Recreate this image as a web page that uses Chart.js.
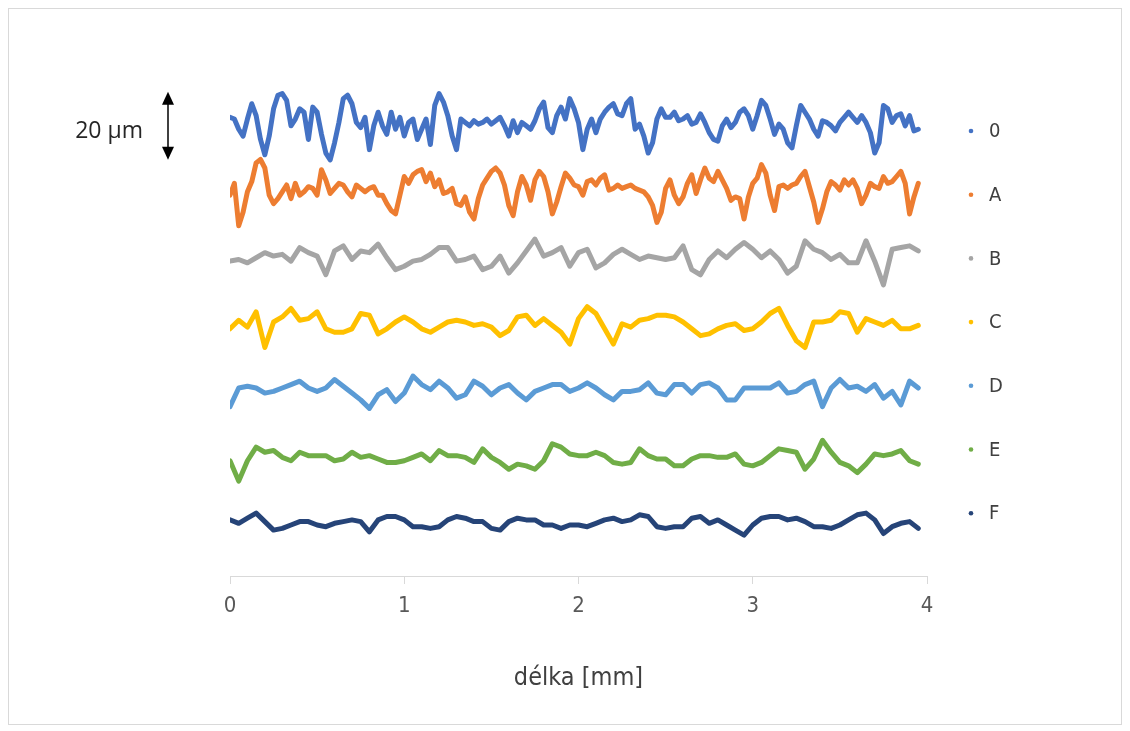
<!DOCTYPE html>
<html>
<head>
<meta charset="utf-8">
<script src="https://cdn.jsdelivr.net/npm/chart.js@4.4.1/dist/chart.umd.min.js"></script>
<style>
  html, body { margin: 0; padding: 0; background: #fff; }
  #frame { position: absolute; left: 8px; top: 8px; width: 1114px; height: 717px; border: 1px solid #d9d9d9; box-sizing: border-box; pointer-events: none; }
  canvas { position: absolute; left: 0; top: 0; }
</style>
</head>
<body>
<canvas id="chart" width="1130" height="731"></canvas>
<div id="frame"></div>
<script>
// Profile names and colours (Excel palette)
const seriesNames = ['0', 'A', 'B', 'C', 'D', 'E', 'F'];
const seriesColors = ['#4472C4', '#ED7D31', '#A5A5A5', '#FFC000', '#5B9BD5', '#70AD47', '#264478'];

// vertical offset of each profile on the plot [µm]
const seriesOffsets = [132.4, 113, 93.6, 74.2, 54.8, 35.4, 16];

// sampling step along the length [mm]
const stepFine = 0.025;   // profiles 0 and A
const stepCoarse = 0.05;  // profiles B..F

// roughness profiles, deviation from mean line [µm]
const profile0 = [
  2.5, 2, -1, -3, 2, 6.5, 3, -4, -8.5, -3,
  5, 9, 9.5, 7.5, 0, 2, 5, 4, -4, 5.5,
  4, -2.5, -8, -10, -5, 1, 8, 9, 6.5, 1,
  -0.5, 2.5, -7, 0, 4, 0, -2.5, 4, -1, 2.5,
  -3, 1, 2, -4, -1, 2, -5.5, 6, 9.5, 7,
  3, -3, -7, 2, 1, 0, 1.5, 0.5, 1, 2,
  0.5, 1.5, 2.5, 0, -3, 1.5, -2, 1, 0, -1,
  1.5, 5, 7, -0.5, -2, 3, 5.5, 2, 8, 5,
  1, -7, -1, 2, -2, 2, 4, 5.5, 6.5, 3.5,
  3, 6.5, 8, -1, 0.5, -3, -8, -5, 2, 5,
  2.5, 2.5, 4, 1.5, 2, 3, 0.5, 1, 3.5, 1,
  -2, -4, -4.5, 0, 2, -0.5, 1, 4, 5, 3,
  -1, 3, 7.5, 6, 2, -2.5, 0.5, -1, -5, -6.5,
  0, 6, 4, 2, -1, -3, 1.5, 1, 0, -1.5,
  1, 2.5, 4, 2.5, 1, 3, 1, -2, -8, -5,
  6, 5, 1, 3, 3.5, 0, 3, -1.5, -1
];
const profileA = [
  -1, 2.5, -10, -6, 0, 3, 8.5, 9.5, 7, -1,
  -3.5, -2, 0, 2, -2, 2.5, -1, 0, 1.5, 1,
  -1, 6.5, 3.5, -0.5, 1, 2.5, 2, 0, -1.5, 2,
  1, 0, 1, 1.5, -1, -1, -3.5, -5.5, -6.5, -1,
  4.5, 2.5, 5, 6, 6.5, 3, 5.5, 1.5, 3.5, -0.5,
  0, 1, -3.5, -4, -1.5, -6, -8, -2, 2, 4,
  6, 7, 5.5, 2, -4, -7, 0, 4.5, 2, -2.5,
  3.5, 6, 4.5, 0, -6.5, -3, 1.5, 5.5, 4, 2,
  1.5, -1, 3, 3.5, 2, 4, 5, 0.5, 1, 2,
  1, 1.5, 2, 1, 0.5, 0, -1.5, -4, -9, -6,
  1, 3.5, -1, -3.5, -1.5, 2.5, 5, -0.5, 3.5, 7,
  4, 3, 6, 3.5, 1, -2.5, -1.5, -2, -8, -1.5,
  2.5, 4, 8, 5.5, -1, -5.5, 1.5, 2, 1, 2,
  2.5, 4.5, 6, 1.5, -3, -9, -5, 0, 3, 2,
  0.5, 3.5, 2, 3.5, 1, -3.5, -1, 2.5, 1.5, 1,
  4.5, 2.5, 3, 4.5, 6, 2.5, -6.5, -1.5, 2.5
];
const profileB = [
  -1, -0.5, -1.5, 0, 1.5, 0.5, 1, -1, 3, 1.5,
  0.5, -5, 2, 3.5, -0.5, 2, 1.5, 4, 0, -3.5,
  -2.5, -1, -0.5, 1, 3, 3, -1, -0.5, 0.5, -3.5,
  -2.5, 0.5, -4.5, -1.5, 2, 5.5, 0.5, 1.5, 3, -2.5,
  1.5, 2.5, -3, -1.5, 1, 2.5, 1, -0.5, 0.5, 0,
  -0.5, 0, 3.5, -3.5, -5, -0.5, 2, 0, 2.5, 4.5,
  2.5, 0, 2, -0.5, -4.5, -2.5, 5, 2.5, 1.5, -0.5,
  1, -1.5, -1.5, 5, -1, -8, 2.5, 3, 3.5, 2
];
const profileC = [
  -1.5, 1, -1, 3.5, -7, 0.5, 2, 4.5, 1, 1.5,
  3.5, -1.5, -2.5, -2.5, -1.5, 3, 2.5, -3, -1.5, 0.5,
  2, 0.5, -1.5, -2.5, -1, 0.5, 1, 0.5, -0.5, 0,
  -1, -3.5, -2, 2, 2.5, -0.5, 1.5, -0.5, -2.5, -6,
  1.5, 5, 3, -1.5, -6, 0, -1, 1, 1.5, 2.5,
  2.5, 2, 0.5, -1.5, -3.5, -3, -1.5, -0.5, 0, -2,
  -1.5, 0.5, 3, 4.5, -0.5, -5, -7, 0.5, 0.5, 1,
  3.5, 3, -2.5, 1.5, 0.5, -0.5, 1, -1.5, -1.5, -0.5
];
const profileD = [
  -5, 0.5, 1, 0.5, -1, -0.5, 0.5, 1.5, 2.5, 0.5,
  -0.5, 0.5, 3, 1, -1, -3, -5.5, -1.5, 0, -3.5,
  -1, 4, 1.5, 0, 2.5, 0.5, -2.5, -1.5, 2.5, 1,
  -1.5, 0.5, 1.5, -1, -3, -0.5, 0.5, 1.5, 1.5, -0.5,
  0.5, 2, 0.5, -1.5, -3, -0.5, -0.5, 0, 2, -1,
  -1.5, 1.5, 1.5, -1, 1.5, 2, 0.5, -3, -3, 0.5,
  0.5, 0.5, 0.5, 2, -1, -0.5, 1.5, 2.5, -5, 0.5,
  3, 0.5, 1, -0.5, 1.5, -2.5, -0.5, -4.5, 2.5, 0.5
];
const profileE = [
  -1.5, -7.5, -1.5, 2.5, 1, 1.5, -0.5, -1.5, 1, 0,
  0, 0, -1.5, -1, 1, -0.5, 0, -1, -2, -2,
  -1.5, -0.5, 0.5, -1.5, 1.5, 0, 0, -0.5, -2, 2,
  -0.5, -2, -4, -2.5, -3, -4, -1.5, 3.5, 2.5, 0.5,
  0, 0, 1, 0, -2, -2.5, -2, 2, 0, -1,
  -1, -3, -3, -1, 0, 0, -0.5, -0.5, 0.5, -2.5,
  -3, -2, 0, 2, 1.5, 1, -4, -1, 4.5, 1,
  -2, -3, -5, -2.5, 0.5, 0, 0.5, 1.5, -1.5, -2.5
];
const profileF = [
  0.5, -0.5, 1, 2.5, 0, -2.5, -2, -1, 0, 0,
  -1, -1.5, -0.5, 0, 0.5, 0, -3, 0.5, 1.5, 1.5,
  0.5, -1.5, -1.5, -2, -1.5, 0.5, 1.5, 1, 0, 0,
  -2, -2.5, 0, 1, 0.5, 0.5, -1, -1, -2, -1,
  -1, -1.5, -0.5, 0.5, 1, 0, 0.5, 2, 1.5, -1.5,
  -2, -1.5, -1.5, 1, 1.5, -0.5, 0.5, -1, -2.5, -4,
  -1, 1, 1.5, 1.5, 0.5, 1, 0, -1.5, -1.5, -2,
  -1, 0.5, 2, 2.5, 0.5, -3.5, -1.5, -0.5, 0, -2
];

const profiles = [profile0, profileA, profileB, profileC, profileD, profileE, profileF];
const steps = [stepFine, stepFine, stepCoarse, stepCoarse, stepCoarse, stepCoarse, stepCoarse];

// x axis ticks [mm]
const xTicks = [0, 1, 2, 3, 4];
const xTitle = 'délka [mm]';

// scale bar
const scaleBarLength = 20; // µm
const scaleBarLabel = '20 µm';

const textFont = '"Liberation Sans Narrow", "DejaVu Sans Condensed", sans-serif';

// turn a profile into {x, y} points, shifted to its level on the plot
function toPoints(values, step, offset) {
  return values.map((v, i) => ({ x: Math.round(i * step * 1000) / 1000, y: offset + v }));
}

const datasets = profiles.map((values, i) => ({
  label: seriesNames[i],
  data: toPoints(values, steps[i], seriesOffsets[i]),
  borderColor: seriesColors[i],
  backgroundColor: seriesColors[i],
  borderWidth: 5,
  borderJoinStyle: 'round',
  borderCapStyle: 'round',
  pointRadius: 0,
  tension: 0,
  fill: false
}));

// scale bar on the left and legend on the right
const overlayPlugin = {
  id: 'overlay',
  afterDraw(chart) {
    const { ctx, scales: { y } } = chart;
    ctx.save();

    // arrow showing 20 µm
    const ax = 168;
    const yTop = y.getPixelForValue(seriesOffsets[0] + scaleBarLength / 2);
    const yBot = y.getPixelForValue(seriesOffsets[0] - scaleBarLength / 2);
    ctx.strokeStyle = '#000';
    ctx.fillStyle = '#000';
    ctx.lineWidth = 1.5;
    ctx.beginPath();
    ctx.moveTo(ax, yTop + 10);
    ctx.lineTo(ax, yBot - 10);
    ctx.stroke();
    ctx.beginPath();
    ctx.moveTo(ax, yTop);
    ctx.lineTo(ax - 6, yTop + 13);
    ctx.lineTo(ax + 6, yTop + 13);
    ctx.closePath();
    ctx.fill();
    ctx.beginPath();
    ctx.moveTo(ax, yBot);
    ctx.lineTo(ax - 6, yBot - 13);
    ctx.lineTo(ax + 6, yBot - 13);
    ctx.closePath();
    ctx.fill();

    ctx.fillStyle = '#262626';
    ctx.font = '23px "Open Sans", sans-serif';
    ctx.textAlign = 'right';
    ctx.textBaseline = 'middle';
    ctx.fillText(scaleBarLabel, 143, (yTop + yBot) / 2 + 6);

    // legend
    ctx.font = '20px ' + textFont;
    ctx.textAlign = 'left';
    chart.data.datasets.forEach((ds, i) => {
      const ly = 131 + i * 63.7;
      ctx.fillStyle = ds.borderColor;
      ctx.beginPath();
      ctx.arc(971, ly, 2.3, 0, Math.PI * 2);
      ctx.fill();
      ctx.fillStyle = '#404040';
      ctx.fillText(ds.label, 989, ly + 1);
    });
    ctx.restore();
  }
};

new Chart(document.getElementById('chart'), {
  type: 'line',
  data: { datasets },
  plugins: [overlayPlugin],
  options: {
    responsive: false,
    animation: false,
    devicePixelRatio: 1,
    layout: { padding: { left: 230, right: 203, top: 66, bottom: 38 } },
    plugins: {
      legend: { display: false },
      tooltip: { enabled: false }
    },
    scales: {
      x: {
        type: 'linear',
        min: 0,
        max: 4,
        afterBuildTicks: (scale) => { scale.ticks = xTicks.map(v => ({ value: v })); },
        afterFit: (scale) => { scale.height = 117; },
        ticks: {
          color: '#595959',
          font: { family: textFont, size: 22 },
          padding: 9
        },
        grid: {
          drawOnChartArea: false,
          drawTicks: true,
          tickLength: 8,
          color: '#d9d9d9'
        },
        border: { display: true, color: '#d9d9d9', width: 1 },
        title: {
          display: true,
          text: xTitle,
          color: '#404040',
          font: { family: textFont, size: 25 },
          padding: { top: 0, bottom: 0 }
        }
      },
      y: {
        type: 'linear',
        min: 0,
        max: 150,
        display: false
      }
    }
  }
});
</script>
</body>
</html>
